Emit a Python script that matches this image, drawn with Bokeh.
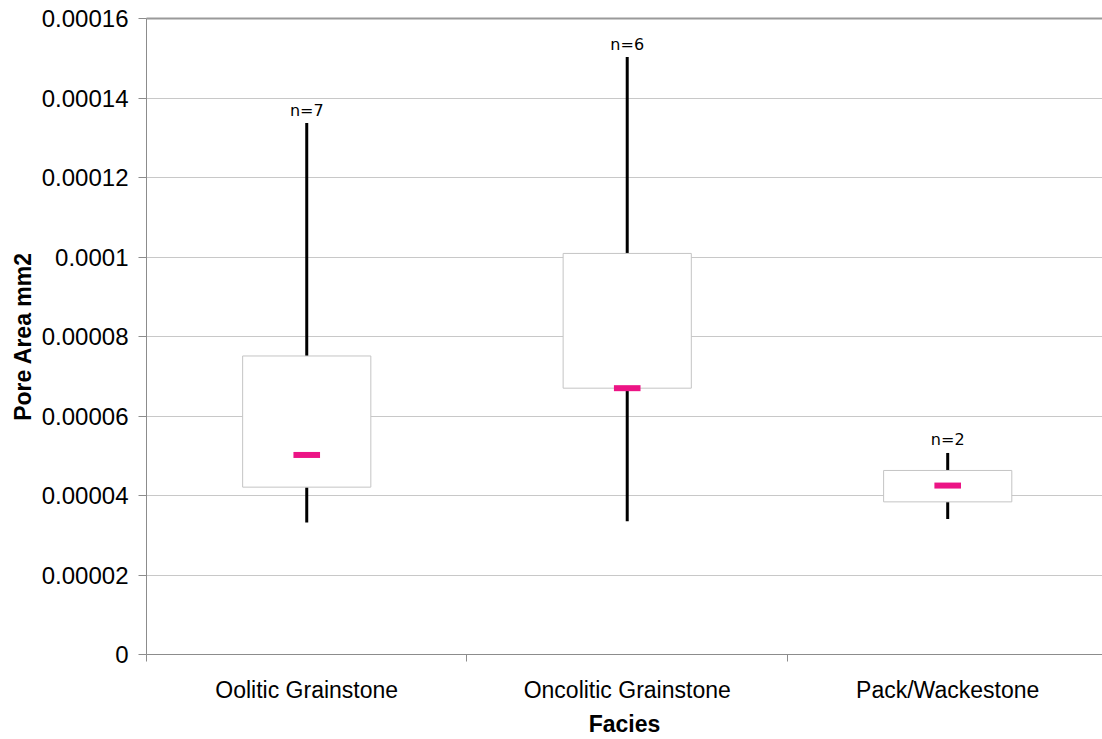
from bokeh.plotting import figure
from bokeh.models import (Range1d, FixedTicker, CustomJSTickFormatter, LinearAxis,
                          ColumnDataSource)
from bokeh.core.properties import value
from bokeh.embed import file_html
from bokeh.resources import INLINE

# Pore area statistics by facies (mm2)
facies = ["Oolitic Grainstone", "Oncolitic Grainstone", "Pack/Wackestone"]
n_samples = [7, 6, 2]
whisker_low = [0.0000332, 0.0000335, 0.0000341]
q1 = [0.0000421, 0.0000670, 0.0000384]
median = [0.0000502, 0.0000670, 0.0000425]
q3 = [0.0000751, 0.0001009, 0.0000463]
whisker_high = [0.0001337, 0.0001503, 0.0000507]
y_ticks = [0, 0.00002, 0.00004, 0.00006, 0.00008, 0.0001, 0.00012, 0.00014, 0.00016]

FONT = "Liberation Sans"
GRID = "#c8c8c8"
AXIS = "#8c8c8c"
PINK = "#ec1485"

centers = [i + 0.5 for i in range(len(facies))]
src = ColumnDataSource(dict(
    x=centers, lo=whisker_low, q1=q1, med=median, q3=q3, hi=whisker_high,
    label=[f"n={n}" for n in n_samples],
))

p = figure(width=1102, height=739, output_backend="svg", toolbar_location=None,
           x_range=Range1d(0, 2.983), y_range=Range1d(0, 0.00016),
           min_border_left=146, min_border_right=0, min_border_top=18,
           min_border_bottom=84, outline_line_color=None,
           background_fill_color="white", border_fill_color="white")

# y axis
p.yaxis.ticker = FixedTicker(ticks=y_ticks)
p.yaxis.formatter = CustomJSTickFormatter(code="return String(Number(tick.toFixed(5)));")
p.yaxis.axis_line_color = AXIS
p.yaxis.major_tick_line_color = AXIS
p.yaxis.major_tick_out = 8
p.yaxis.major_tick_in = 0
p.yaxis.minor_tick_line_color = None
p.yaxis.major_label_text_font = FONT
p.yaxis.major_label_text_font_size = "24px"
p.yaxis.major_label_text_color = "black"
p.yaxis.major_label_standoff = 10
p.yaxis.axis_label = "Pore Area mm2"
p.yaxis.axis_label_text_font = FONT
p.yaxis.axis_label_text_font_size = "23px"
p.yaxis.axis_label_text_font_style = "bold"
p.yaxis.axis_label_text_color = "black"
p.yaxis.axis_label_standoff = 3

# x axis: labels at category centres, ticks on category boundaries
p.xaxis.ticker = FixedTicker(ticks=centers, minor_ticks=[0, 1, 2, 3])
p.xaxis.major_label_overrides = {c: f for c, f in zip(centers, facies)}
p.xaxis.axis_line_color = AXIS
p.xaxis.major_tick_line_color = None
p.xaxis.major_tick_out = 0
p.xaxis.major_tick_in = 0
p.xaxis.minor_tick_line_color = AXIS
p.xaxis.minor_tick_out = 7
p.xaxis.minor_tick_in = 0
p.xaxis.major_label_text_font = FONT
p.xaxis.major_label_text_font_size = "23px"
p.xaxis.major_label_text_color = "black"
p.xaxis.major_label_standoff = 15
p.xaxis.axis_label = "Facies"
p.xaxis.axis_label_text_font = FONT
p.xaxis.axis_label_text_font_size = "23px"
p.xaxis.axis_label_text_font_style = "bold"
p.xaxis.axis_label_text_color = "black"
p.xaxis.axis_label_standoff = 5

# top edge of the plot area
top = LinearAxis(ticker=FixedTicker(ticks=[]), axis_line_color="#9a9a9a",
                 axis_line_width=2, major_tick_line_color=None,
                 minor_tick_line_color=None, major_label_text_font_size="0px")
p.add_layout(top, "above")

p.xgrid.grid_line_color = None
p.ygrid.ticker = FixedTicker(ticks=y_ticks)
p.ygrid.grid_line_color = GRID
p.ygrid.grid_line_width = 1

# whiskers
p.segment(x0="x", y0="q3", x1="x", y1="hi", source=src, line_color="black", line_width=3)
p.segment(x0="x", y0="lo", x1="x", y1="q1", source=src, line_color="black", line_width=3)

# interquartile boxes
p.vbar(x="x", width=0.4, bottom="q1", top="q3", source=src,
       fill_color="white", line_color="#c4c4c4", line_width=1)

# medians
p.rect(x="x", y="med", width=0.083, height=6, height_units="screen", source=src,
       fill_color=PINK, line_color=None)

# sample counts
p.text(x="x", y="hi", text="label", source=src, y_offset=-13,
       text_align="center", text_baseline="alphabetic",
       text_font=value("DejaVu Sans"), text_font_size="16px", text_color="black")

open("out.html", "w").write(file_html(p, INLINE))
